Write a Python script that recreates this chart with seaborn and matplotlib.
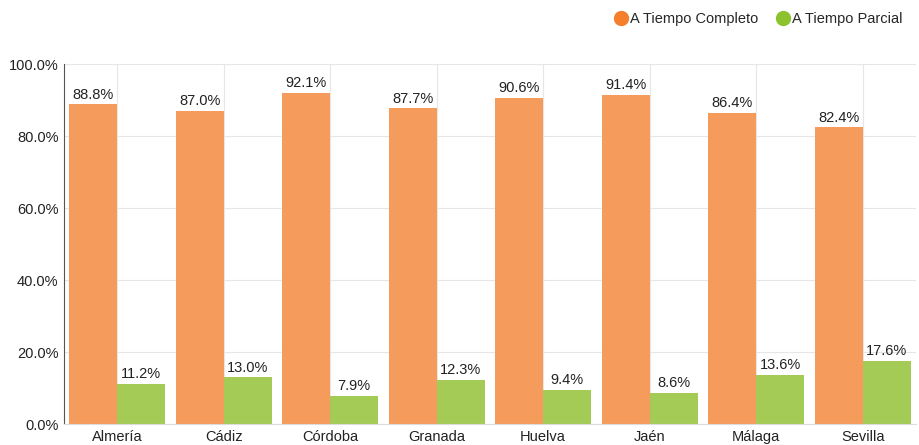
import numpy as np
import pandas as pd
import matplotlib.pyplot as plt
import seaborn as sns
from matplotlib.lines import Line2D

# ---------------------------------------------------------------------
# Data
# ---------------------------------------------------------------------
provincias = ["Almería", "Cádiz", "Córdoba", "Granada", "Huelva", "Jaén", "Málaga", "Sevilla"]
completo = [88.8, 87.0, 92.1, 87.7, 90.6, 91.4, 86.4, 82.4]
parcial = [11.2, 13.0, 7.9, 12.3, 9.4, 8.6, 13.6, 17.6]
series = ["A Tiempo Completo", "A Tiempo Parcial"]

df = pd.DataFrame({
    "Provincia": provincias * 2,
    "Tipo": [series[0]] * len(provincias) + [series[1]] * len(provincias),
    "Valor": completo + parcial,
})

bar_colors = ["#f59b5c", "#a4cb56"]
dot_colors = ["#f47f2c", "#8cc22e"]

sns.set_style("white")
plt.rcParams["font.family"] = ["Liberation Sans", "DejaVu Sans"]

fig = plt.figure(figsize=(9.19, 4.45), dpi=100)
ax = fig.add_axes([0.0696, 0.047, 0.927, 0.809])

sns.barplot(data=df, x="Provincia", y="Valor", hue="Tipo", hue_order=series,
            palette=bar_colors, width=0.9, saturation=1, ax=ax, legend=False,
            edgecolor="none")

for cont in ax.containers:
    labels = [f"{v:.1f}%" for v in cont.datavalues]
    ax.bar_label(cont, labels=labels, padding=2, fontsize=10.5, color="#222222")

ax.set_ylim(0, 100)
ax.set_xlim(-0.5, len(provincias) - 0.5)
ax.set_yticks(np.arange(0, 101, 20))
ax.set_yticklabels([f"{t:.1f}%" for t in np.arange(0, 101, 20)])
ax.tick_params(axis="both", labelsize=10.5, colors="#222222", length=0, pad=4)
ax.set_xlabel("")
ax.set_ylabel("")
ax.set_axisbelow(True)
ax.grid(True, axis="both", color="#e6e6e6", linewidth=0.8)

for side in ["top", "right"]:
    ax.spines[side].set_visible(False)
ax.spines["left"].set_color("#555555")
ax.spines["left"].set_linewidth(0.8)
ax.spines["bottom"].set_color("#dddddd")

handles = [Line2D([0], [0], marker="o", linestyle="", markersize=10,
                  markerfacecolor=c, markeredgecolor=c) for c in dot_colors]
fig.legend(handles, series, loc="upper right", bbox_to_anchor=(0.996, 1.003),
           ncol=2, frameon=False, fontsize=10.5, handletextpad=0.0,
           columnspacing=1.1, handlelength=1.2)

fig.savefig("out.png", dpi=100)
